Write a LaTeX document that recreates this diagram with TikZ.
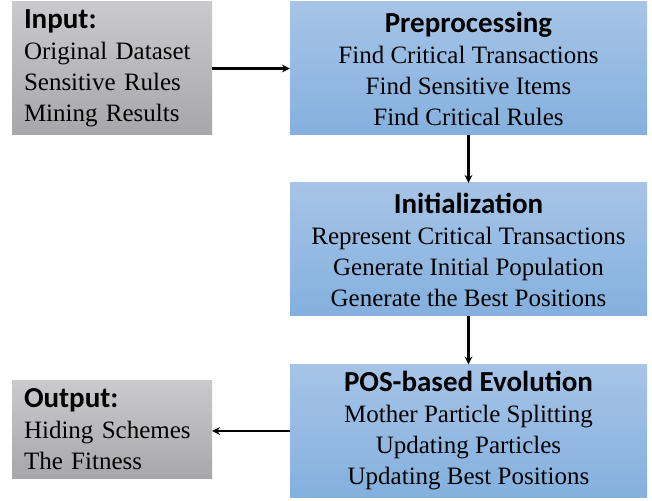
\documentclass[tikz,border=0pt]{standalone}
\usepackage{fontspec}
\setmainfont{Liberation Serif}
\newfontfamily\ttlfont{Carlito}
\usetikzlibrary{arrows}
\definecolor{bleuh}{HTML}{A6C4E7}
\definecolor{bleub}{HTML}{84B0DE}
\definecolor{grish}{HTML}{CACACC}
\definecolor{grisb}{HTML}{A7A7A9}
\newcommand{\ttl}[1]{{\ttlfont\bfseries\fontsize{29}{31}\selectfont #1}}

\begin{document}
\begin{tikzpicture}[x=1pt,y=1pt]
\tikzstyle{lien}=[->,>=stealth,line width=2.4pt]
\tikzset{etape/.style={inner sep=0pt,minimum width=357pt,minimum height=133pt,
align=center,font=\fontsize{25}{31}\selectfont,
top color=bleuh,bottom color=bleub},
bord/.style={inner xsep=12pt,inner ysep=0pt,text width=176pt,align=left,
font=\fontsize{25}{31}\selectfont,top color=grish,bottom color=grisb}}
\useasboundingbox (0,0) rectangle (652,500);
\node [bord,minimum height=133pt] (in) at (112,431.5) {\ttl{Input:}\\Original Dataset\\Sensitive Rules\\Mining Results};
\node [etape] (pre) at (468.5,431.5) {\ttl{Preprocessing}\\Find Critical Transactions\\Find Sensitive Items\\Find Critical Rules};
\node [etape] (ini) at (468.5,250.5) {\ttl{Initialization}\\Represent Critical Transactions\\Generate Initial Population\\Generate the Best Positions};
\node [etape] (pos) at (468.5,69) {\ttl{POS-based Evolution}\\Mother Particle Splitting\\Updating Particles\\Updating Best Positions};
\node [bord,minimum height=97pt] (out) at (112,70.5) {\ttl{Output:}\\Hiding Schemes\\The Fitness};
\draw [lien] (in) -- (pre);
\draw [lien] (pre) -- (ini);
\draw [lien] (ini) -- (pos);
\draw [lien] (pos.west) -- (pos.west -| out.east);
\end{tikzpicture}
\end{document}
